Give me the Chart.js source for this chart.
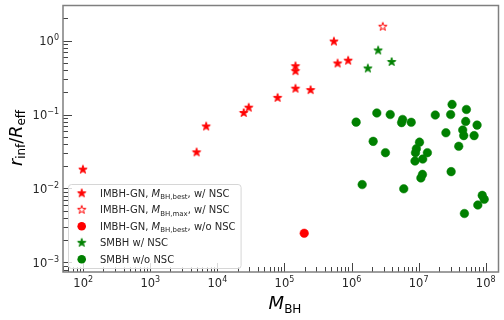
<!DOCTYPE html>
<html><head><meta charset="utf-8">
<script src="https://cdn.jsdelivr.net/npm/chart.js@4/dist/chart.umd.min.js"></script>
<style>html,body{margin:0;padding:0;background:#fff;}#wrap{width:504px;height:320px;position:relative;}</style>
</head><body><div id="wrap"><canvas id="c" width="504" height="320"></canvas></div>
<script>
// ---- data ----
const imbhBestNscMass  = [99, 4.9e3, 6.8e3, 2.47e4, 2.93e4, 7.9e4, 1.46e5, 2.45e5, 1.46e5, 1.46e5, 5.46e5, 6.2e5, 8.9e5];
const imbhBestNscRatio = [0.018, 0.0308, 0.069, 0.105, 0.124, 0.168, 0.224, 0.214, 0.45, 0.386, 0.97, 0.49, 0.535];
const imbhMaxNscMass  = [2.92e6];
const imbhMaxNscRatio = [1.54];
const imbhBestNoNscMass  = [1.97e5];
const imbhBestNoNscRatio = [0.00248];
const smbhNscMass  = [2.49e6, 1.75e6, 3.96e6];
const smbhNscRatio = [0.735, 0.42, 0.514];
const smbhNoNscMass  = [1.17e6, 2.38e6, 3.77e6, 5.77e6, 5.57e6, 7.75e6, 1.77e7, 3.15e7, 3.0e7, 5.15e7,
  5.03e7, 7.43e7, 4.54e7, 4.7e7, 6.71e7, 2.55e7, 3.96e7, 2.1e6, 3.2e6, 1.03e7,
  9.25e6, 8.97e6, 1.35e7, 8.82e6, 1.15e7, 3.05e7, 1.14e7, 1.08e7, 1.44e6, 6.0e6,
  8.87e7, 9.5e7, 7.62e7, 4.81e7];
const smbhNoNscRatio = [0.0789, 0.105, 0.100, 0.0858, 0.0778, 0.0785, 0.0985, 0.137, 0.100, 0.117,
  0.0807, 0.072, 0.0618, 0.0519, 0.0519, 0.0567, 0.0372, 0.0434, 0.0305, 0.0423,
  0.0345, 0.0305, 0.0305, 0.0235, 0.0250, 0.0169, 0.0155, 0.0139, 0.0113, 0.0099,
  0.00807, 0.00714, 0.00598, 0.00459];
const xTickExponents = [2, 3, 4, 5, 6, 7, 8];
const yTickExponents = [0, -1, -2, -3];
const legendLabels = [
  [['IMBH-GN, ', 'n'], ['M', 'i'], ['BH,best', 's'], [', w/ NSC', 'n']],
  [['IMBH-GN, ', 'n'], ['M', 'i'], ['BH,max', 's'], [', w/ NSC', 'n']],
  [['IMBH-GN, ', 'n'], ['M', 'i'], ['BH,best', 's'], [', w/o NSC', 'n']],
  [['SMBH w/ NSC', 'n']],
  [['SMBH w/o NSC', 'n']]
];

const RED = '#ff0000', GREEN = '#008000';
const FONT = 'DejaVu Sans';

function starCanvas(fill, stroke, R) {
  const s = Math.ceil(R * 2 + 3);
  const cv = document.createElement('canvas');
  cv.width = s; cv.height = s;
  const c = cv.getContext('2d');
  const cx = s / 2, cy = s / 2, r = R * 0.381966;
  c.beginPath();
  for (let i = 0; i < 10; i++) {
    const a = -Math.PI / 2 + i * Math.PI / 5;
    const rr = i % 2 ? r : R;
    const px = cx + rr * Math.cos(a), py = cy + rr * Math.sin(a);
    i ? c.lineTo(px, py) : c.moveTo(px, py);
  }
  c.closePath();
  c.fillStyle = fill; c.fill();
  c.lineWidth = 1; c.strokeStyle = stroke; c.stroke();
  return cv;
}
const redStar = starCanvas(RED, RED, 4.4);
const redOpenStar = starCanvas('#ffffff', RED, 4.4);
const greenStar = starCanvas(GREEN, GREEN, 4.4);

function pts(xs, ys) { return xs.map((x, i) => ({x: x, y: ys[i]})); }

const datasets = [
  {label: 'IMBH-GN, M_BH,best, w/ NSC', data: pts(imbhBestNscMass, imbhBestNscRatio), pointStyle: redStar},
  {label: 'IMBH-GN, M_BH,max, w/ NSC', data: pts(imbhMaxNscMass, imbhMaxNscRatio), pointStyle: redOpenStar},
  {label: 'IMBH-GN, M_BH,best, w/o NSC', data: pts(imbhBestNoNscMass, imbhBestNoNscRatio), pointStyle: 'circle', pointRadius: 4.3, backgroundColor: RED, borderColor: RED, borderWidth: 0.5},
  {label: 'SMBH w/ NSC', data: pts(smbhNscMass, smbhNscRatio), pointStyle: greenStar},
  {label: 'SMBH w/o NSC', data: pts(smbhNoNscMass, smbhNoNscRatio), pointStyle: 'circle', pointRadius: 4.3, backgroundColor: GREEN, borderColor: GREEN, borderWidth: 0.5}
];

function drawRuns(ctx, x, y, runs) {
  let cx = x;
  for (const r of runs) {
    ctx.font = r.font;
    ctx.fillText(r.t, cx, y + (r.dy || 0));
    cx += ctx.measureText(r.t).width;
  }
  return cx - x;
}
function runsWidth(ctx, runs) {
  let w = 0;
  for (const r of runs) { ctx.font = r.font; w += ctx.measureText(r.t).width; }
  return w;
}
function powRuns(exp, size, supSize, rise) {
  const e = exp < 0 ? '\u2212' + Math.abs(exp) : String(exp);
  return [{t: '10', font: size + 'px ' + FONT}, {t: e, font: supSize + 'px ' + FONT, dy: -rise}];
}

const decor = {
  id: 'decor',
  afterDatasetsDraw(chart) {
    const ctx = chart.ctx, a = chart.chartArea;
    const xs = chart.scales.x, ys = chart.scales.y;
    ctx.save();
    // ticks (inward)
    ctx.strokeStyle = '#444'; ctx.lineWidth = 1;
    ctx.beginPath();
    for (let e = 1; e <= 8; e++) for (let k = 1; k <= 9; k++) {
      const v = k * Math.pow(10, e);
      if (v < xs.min || v > xs.max) continue;
      const px = Math.round(xs.getPixelForValue(v)) + 0.5;
      const L = k === 1 ? 9 : 5;
      ctx.moveTo(px, a.bottom); ctx.lineTo(px, a.bottom - L);
    }
    for (let e = -4; e <= 0; e++) for (let k = 1; k <= 9; k++) {
      const v = k * Math.pow(10, e);
      if (v < ys.min || v > ys.max) continue;
      const py = Math.round(ys.getPixelForValue(v)) + 0.5;
      const L = k === 1 ? 9 : 5;
      ctx.moveTo(a.left, py); ctx.lineTo(a.left + L, py);
    }
    ctx.stroke();
    // frame
    ctx.strokeStyle = '#7f7f7f'; ctx.lineWidth = 1.5;
    ctx.strokeRect(a.left, a.top, a.right - a.left, a.bottom - a.top);
    // tick labels
    ctx.fillStyle = '#262626'; ctx.textBaseline = 'alphabetic'; ctx.textAlign = 'left';
    for (const e of xTickExponents) {
      const px = xs.getPixelForValue(Math.pow(10, e));
      const runs = powRuns(e, 11.5, 8, 5);
      const w = runsWidth(ctx, runs);
      drawRuns(ctx, px - w / 2, a.bottom + 15, runs);
    }
    for (const e of yTickExponents) {
      const py = ys.getPixelForValue(Math.pow(10, e));
      const runs = powRuns(e, 11.5, 8, 5);
      const w = runsWidth(ctx, runs);
      drawRuns(ctx, a.left - 4 - w, py + 4.5, runs);
    }
    // x title
    ctx.fillStyle = '#000';
    const xr = [{t: 'M', font: 'italic 18px ' + FONT}, {t: 'BH', font: '12px ' + FONT, dy: 3.5}];
    const xw = runsWidth(ctx, xr);
    drawRuns(ctx, 285 - xw / 2, 309, xr);
    // y title
    ctx.save();
    ctx.translate(21.5, 138);
    ctx.rotate(-Math.PI / 2);
    const yr = [{t: 'r', font: 'italic 17.5px ' + FONT}, {t: 'inf', font: '12px ' + FONT, dy: 3.5},
      {t: '/', font: '17.5px ' + FONT}, {t: 'R', font: 'italic 17.5px ' + FONT}, {t: 'eff', font: '12px ' + FONT, dy: 3.5}];
    const yw = runsWidth(ctx, yr);
    drawRuns(ctx, -yw / 2, 0, yr);
    ctx.restore();
    // legend
    const rowY = [193.3, 209.8, 226.3, 242.8, 259.3];
    const textX = 100, markX = 81.7;
    const lruns = legendLabels.map(row => row.map(([t, k]) => k === 'n' ? {t, font: '10px ' + FONT}
      : k === 'i' ? {t, font: 'italic 10px ' + FONT} : {t, font: '7px ' + FONT, dy: 2.5}));
    let maxW = 0;
    for (const r of lruns) maxW = Math.max(maxW, runsWidth(ctx, r));
    const bx = 68, by = 184, bw = textX + maxW + 5 - bx, bh = 84;
    ctx.beginPath();
    if (ctx.roundRect) ctx.roundRect(bx + 0.5, by + 0.5, bw, bh, 3); else ctx.rect(bx + 0.5, by + 0.5, bw, bh);
    ctx.fillStyle = 'rgba(255,255,255,0.8)'; ctx.fill();
    ctx.strokeStyle = '#d6d6d6'; ctx.lineWidth = 1; ctx.stroke();
    const marks = [redStar, redOpenStar, 'rc', greenStar, 'gc'];
    marks.forEach((m, i) => {
      const y = rowY[i];
      if (typeof m === 'string') {
        ctx.beginPath(); ctx.arc(markX, y, 4.3, 0, Math.PI * 2);
        ctx.fillStyle = m === 'rc' ? RED : GREEN; ctx.fill();
      } else {
        ctx.drawImage(m, markX - m.width / 2, y - m.height / 2);
      }
      ctx.fillStyle = '#262626';
      drawRuns(ctx, textX, y + 3.6, lruns[i]);
    });
    ctx.restore();
  }
};

new Chart(document.getElementById('c'), {
  type: 'scatter',
  data: {datasets},
  options: {
    responsive: false, animation: false,
    layout: {padding: {top: 2, right: 2, left: 0, bottom: 0}},
    plugins: {legend: {display: false}, tooltip: {enabled: false}},
    elements: {point: {radius: 4.5, hoverRadius: 4.5}},
    scales: {
      x: {type: 'logarithmic', min: 50, max: 1.55e8, bounds: 'data',
        grid: {display: false}, border: {display: false}, ticks: {display: false},
        afterFit: s => { s.height = 48; }},
      y: {type: 'logarithmic', min: 7.43e-4, max: 2.98, bounds: 'data',
        grid: {display: false}, border: {display: false}, ticks: {display: false},
        afterFit: s => { s.width = 63; }}
    }
  },
  plugins: [decor]
});
</script></body></html>
